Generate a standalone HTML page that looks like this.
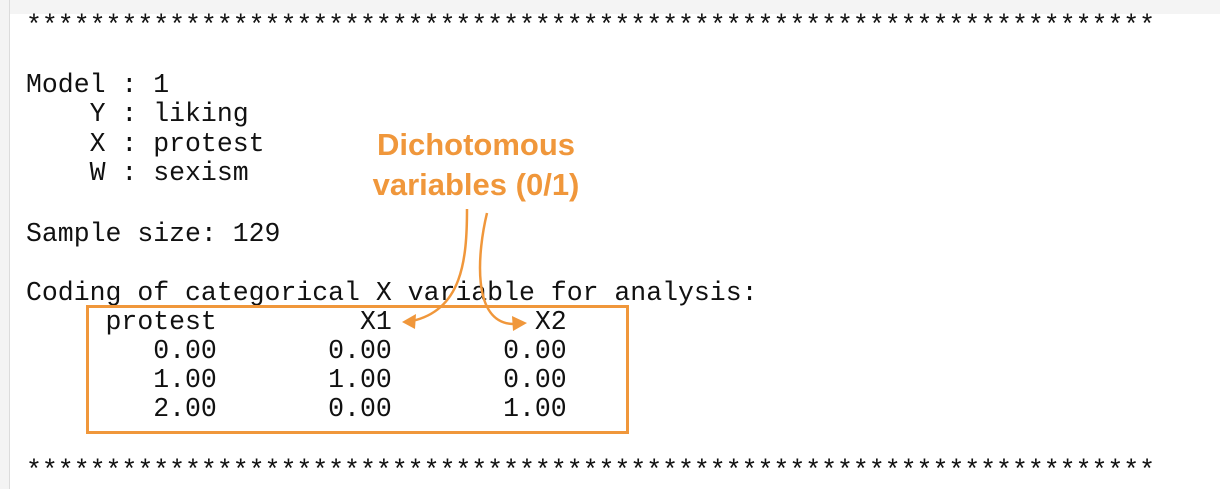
<!DOCTYPE html>
<html><head><meta charset="utf-8"><style>
html,body{margin:0;padding:0;width:1220px;height:489px;overflow:hidden;background:#fff}
#top{position:absolute;left:0;top:0;width:1220px;height:14px;background:#f4f4f4}
#edge{position:absolute;left:0;top:0;width:9px;height:489px;background:#f4f4f4;border-right:1px solid #dcdcdc}
.l{position:absolute;left:26px;font-family:"Liberation Mono",monospace;font-size:26.5px;line-height:30px;white-space:pre;color:#111}
.ann{position:absolute;font-family:"Liberation Sans",sans-serif;font-weight:bold;font-size:31px;color:#f0973b;text-align:center;width:320px;left:316px}
#box{position:absolute;left:86px;top:305px;width:537px;height:123px;border:3px solid #f0973b}
svg{position:absolute;left:0;top:0}
</style></head><body>
<div id="top"></div>
<div id="edge"></div>
<div class="l" style="top:11px">***********************************************************************</div>
<div class="l" style="top:70px">Model : 1</div>
<div class="l" style="top:99px">    Y : liking</div>
<div class="l" style="top:129px">    X : protest</div>
<div class="l" style="top:158px">    W : sexism</div>
<div class="l" style="top:219px">Sample size: 129</div>
<div class="l" style="top:278px">Coding of categorical X variable for analysis:</div>
<div class="l" style="top:307px">     protest         X1         X2</div>
<div class="l" style="top:336px">        0.00       0.00       0.00</div>
<div class="l" style="top:365px">        1.00       1.00       0.00</div>
<div class="l" style="top:394px">        2.00       0.00       1.00</div>
<div class="l" style="top:456px">***********************************************************************</div>
<div id="box"></div>
<div class="ann" style="top:127px">Dichotomous</div>
<div class="ann" style="top:167px">variables (0/1)</div>
<svg width="1220" height="489">
<path d="M467 209 C467 260 462 310 412 321" fill="none" stroke="#f0973b" stroke-width="2.5"/>
<polygon points="402,322 416,314 415,329" fill="#f0973b"/>
<path d="M487 213 C478 250 470 325 515 324" fill="none" stroke="#f0973b" stroke-width="2.5"/>
<polygon points="527,323 512,316 513,331" fill="#f0973b"/>
</svg>
</body></html>
